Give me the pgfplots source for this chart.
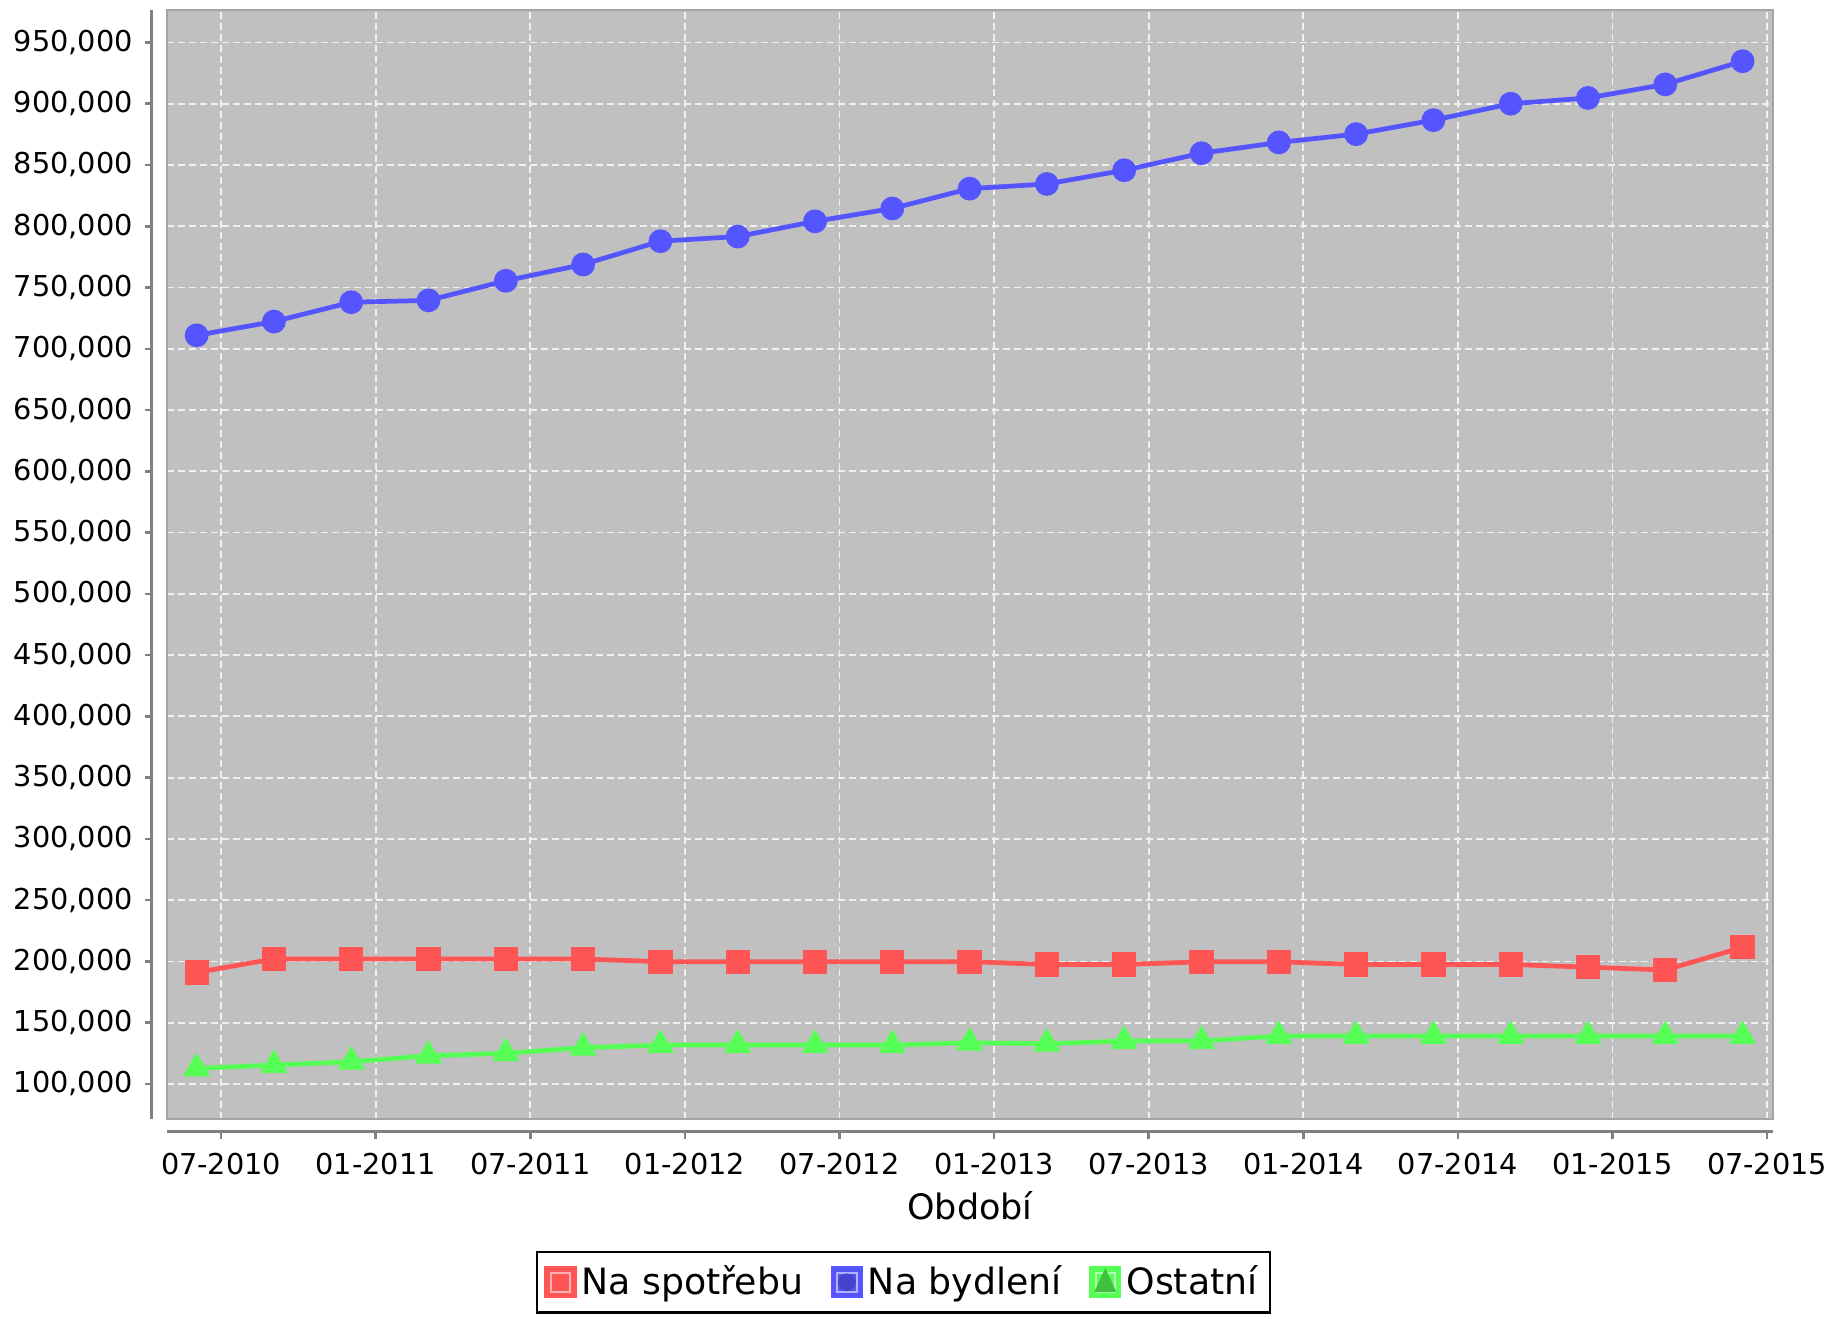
\documentclass[border=0pt]{standalone}
\usepackage{fontspec}
\setmainfont{DejaVu Sans}
\usepackage{pgfplots}
\pgfplotsset{compat=1.18}
\definecolor{sred}{RGB}{255,85,85}
\definecolor{sblue}{RGB}{85,85,255}
\definecolor{sgreen}{RGB}{85,255,85}
\definecolor{plotbg}{RGB}{192,192,192}
\definecolor{outl}{RGB}{165,165,165}
\definecolor{axgray}{RGB}{128,128,128}
\begin{document}
\begin{tikzpicture}
\useasboundingbox (-66.8pt,-80pt) rectangle (667.6pt,447.6pt);
\begin{axis}[
  name=ax, at={(0,0)}, anchor=south west, scale only axis,
  width=642.4pt, height=443.6pt,
  xmin=-2.1, xmax=60.23, ymin=71400, ymax=976500,
  axis background/.style={fill=plotbg},
  axis line style={outl, line width=1pt},
  xtick={0,6,...,60},
  xticklabels={07-2010,01-2011,07-2011,01-2012,07-2012,01-2013,07-2013,01-2014,07-2014,01-2015,07-2015},
  ytick={100000,150000,...,950000},
  scaled y ticks=false,
  yticklabel style={/pgf/number format/.cd, fixed, 1000 sep={,}, assume math mode=true},
  tick pos=left, tick align=outside,
  major tick length=2.8pt,
  xtick style={axgray, line width=1pt, yshift=-5.2pt},
  ytick style={axgray, line width=1pt, xshift=-6pt},
  tick label style={font=\fontsize{11.5}{13}\selectfont},
  xticklabel shift=7.5pt,
  yticklabel shift=7.4pt,
  grid=major,
  major grid style={white!88!gray, line width=0.7pt, dash pattern=on 2.8pt off 1.6pt},
  xlabel={Období},
  xlabel style={font=\fontsize{14}{16}\selectfont, at={(axis description cs:0.5,-0.0785)}, anchor=center},
  legend style={at={(axis description cs:0.4586,-0.119)}, anchor=north, legend columns=-1,
    draw=black, line width=1pt, fill=white, font=\fontsize{14.5}{16}\selectfont,
    inner xsep=3pt, inner ysep=3.5pt,
    /tikz/every even column/.append style={column sep=9pt}},
]
\addplot[sred, line width=1.9pt, mark=square*, mark size=3.9pt,
  legend image code/.code={\fill[sred] (0pt,-5.5pt) rectangle (11pt,5.5pt);
    \draw[white!55!sred, line width=0.8pt] (1.6pt,-3.9pt) rectangle (9.4pt,3.9pt);}]
coordinates {
(-0.95,191000) (2.05,202000) (5.05,202000) (8.05,202000) (11.05,202000) (14.05,202000)
(17.05,199800) (20.05,199800) (23.05,199800) (26.05,199800) (29.05,199800)
(32.05,197500) (35.05,197500) (38.05,199700) (41.05,199700) (44.05,197500)
(47.05,197500) (50.05,197500) (53.05,195300) (56.05,193000) (59.05,211500)};
\addlegendentry{Na spotřebu}
\addplot[sblue, line width=1.9pt, mark=*, mark size=3.8pt,
  legend image code/.code={\fill[sblue] (0pt,-5.5pt) rectangle (11pt,5.5pt);
    \draw[white!55!sblue, line width=0.8pt] (1.6pt,-3.9pt) rectangle (9.4pt,3.9pt);
    \fill[sblue!80!black] (5.5pt,0pt) circle (2.6pt);}]
coordinates {
(-0.95,711000) (2.05,722200) (5.05,738000) (8.05,739500) (11.05,755500) (14.05,768800)
(17.05,787800) (20.05,791600) (23.05,804000) (26.05,814500) (29.05,830700)
(32.05,834500) (35.05,845700) (38.05,859600) (41.05,868400) (44.05,875200)
(47.05,886600) (50.05,900000) (53.05,904700) (56.05,915800) (59.05,934700)};
\addlegendentry{Na bydlení}
\addplot[sgreen, line width=1.9pt, mark=triangle*, mark size=4.4pt,
  legend image code/.code={\fill[sgreen] (0pt,-5.5pt) rectangle (11pt,5.5pt);
    \draw[white!55!sgreen, line width=0.8pt] (1.6pt,-3.9pt) rectangle (9.4pt,3.9pt);
    \fill[sgreen!75!black] (2.5pt,-3pt) -- (8.5pt,-3pt) -- (5.5pt,3.5pt) -- cycle;}]
coordinates {
(-0.95,112700) (2.05,115400) (5.05,118100) (8.05,123000) (11.05,125000) (14.05,129600)
(17.05,131700) (20.05,131700) (23.05,131700) (26.05,131700) (29.05,133600)
(32.05,132800) (35.05,135000) (38.05,135000) (41.05,139100) (44.05,139100)
(47.05,139100) (50.05,139100) (53.05,139100) (56.05,139100) (59.05,139100)};
\addlegendentry{Ostatní}
\end{axis}
\draw[axgray, line width=1.2pt] ([yshift=-5.2pt]ax.south west) -- ([yshift=-5.2pt]ax.south east);
\draw[axgray, line width=1.2pt] ([xshift=-6pt]ax.south west) -- ([xshift=-6pt]ax.north west);
\end{tikzpicture}
\end{document}
